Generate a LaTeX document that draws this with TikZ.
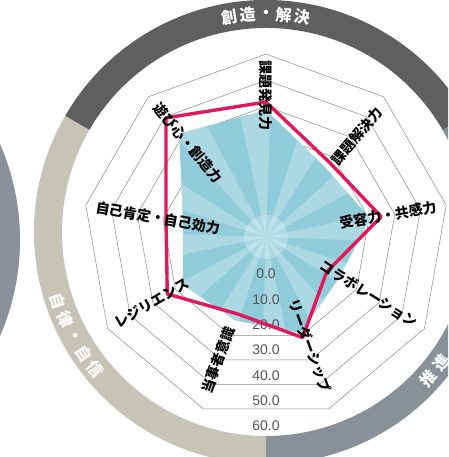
\documentclass[tikz,border=0pt]{standalone}
\usepackage{fontspec}
\newfontfamily\jp{Noto Sans CJK JP}
\newfontfamily\num{Liberation Sans}
\definecolor{darkband}{HTML}{5F5F5F}
\definecolor{khaki}{HTML}{C6C4B7}
\definecolor{grayband}{HTML}{8A9098}
\definecolor{leftgray}{HTML}{8C9199}
\definecolor{bluefill}{HTML}{90CCD9}
\definecolor{redline}{HTML}{E3175B}
\definecolor{gridgray}{HTML}{8A8A8A}
\definecolor{scalegray}{HTML}{555555}
\begin{document}
\begin{tikzpicture}[x=1pt,y=1pt,
  gridline/.style={draw=gridgray, line width=0.5pt},
  axlabel/.style={font=\jp\bfseries\fontsize{14}{14}\selectfont, inner sep=0pt, text=black},
  scalelabel/.style={font=\num\fontsize{14}{14}\selectfont, text=scalegray, inner sep=0pt},
  ringtext/.style={font=\jp\bfseries\fontsize{16}{16}\selectfont, text=white, inner sep=0pt},
  datared/.style={draw=redline, line width=3.4pt, line join=round},
]
\useasboundingbox (-266,-220) rectangle (182,237);
\clip (-266,-220) rectangle (182,237);
\fill[white] (-266,-220) rectangle (182,237);

% neighbouring chart at the far left
\fill[leftgray] (-486,-3) circle (240);

% outer ring
\def\RO{232}\def\RI{204}
\fill[darkband] ([shift={(0,5)}]30:\RO) arc[start angle=30,end angle=150,radius=\RO]
  -- ([shift={(0,5)}]150:\RI) arc[start angle=150,end angle=30,radius=\RI] -- cycle;
\fill[khaki] ([shift={(0,5)}]150:\RO) arc[start angle=150,end angle=270,radius=\RO]
  -- ([shift={(0,5)}]270:\RI) arc[start angle=270,end angle=150,radius=\RI] -- cycle;
\fill[grayband] ([shift={(0,5)}]-90:\RO) arc[start angle=-90,end angle=30,radius=\RO]
  -- ([shift={(0,5)}]30:\RI) arc[start angle=30,end angle=-90,radius=\RI] -- cycle;

% ring texts
\foreach \c [count=\i, evaluate=\i as \ang using 90-(\i-3)*4.8] in {創,造,・,解,決}
  \node[ringtext, rotate=\ang-90] (t\i) at ([shift={(0,5)}]\ang:218) {\c};
\foreach \c [count=\i, evaluate=\i as \ang using 208.6+(\i-3)*5.1] in {自,律,・,自,信}
  \node[ringtext, rotate=\ang+90] (u\i) at ([shift={(0,5)}]\ang:219) {\c};
\foreach \c [count=\i, evaluate=\i as \ang using -42+(\i-1)*5.4] in {推,進}
  \node[ringtext, rotate=\ang+90] (w\i) at ([shift={(0,5)}]\ang:219) {\c};

% grid rings (values 0 ... 60, centre = -10)
\foreach \k in {1,...,7}
  \draw[gridline] (90:{26.14*\k}) \foreach \a in {50,10,...,-230} { -- (\a:{26.14*\k}) } -- cycle;

% blue series with light rays
\begin{scope}
  \clip (90:127) -- (50:91.5) -- (10:106) -- (-30:83.6) -- (-70:102) -- (-110:89)
        -- (-150:96) -- (170:84.3) -- (130:135) -- cycle;
  \fill[bluefill] (-200,-200) rectangle (200,200);
  \foreach \a in {5,35,...,335}
    \fill[white, opacity=0.25] (0,0) -- (\a-7:220) -- (\a+7:220) -- cycle;
  \fill[white, opacity=0.25] (0,0) circle (22);
\end{scope}

% scale labels
\foreach \v [count=\i from 0] in {0.0,10.0,20.0,30.0,40.0,50.0,60.0}
  \node[scalelabel] (s\i) at (0,{-37-25.3*\i}) {\v};

% red series
\draw[datared] (90:135) -- (50:98) -- (10:117) -- (-30:70) -- (-70:107)
  -- (-110:82) -- (-150:114) -- (170:101.5) -- (130:155.5) -- cycle;

% axis labels
\node[axlabel, rotate=-90] (l1) at (0,141) {課題発見力};
\node[axlabel, rotate=50]  (l2) at (91,101) {課題解決力};
\node[axlabel, rotate=10]  (l3) at (122,22) {受容力・共感力};
\node[axlabel, rotate=-32] (l4) at (103,-57) {コラボレーション};
\node[axlabel, rotate=-70] (l5) at (44,-109) {リーダーシップ};
\node[axlabel, rotate=70]  (l6) at (-48,-123) {当事者意識};
\node[axlabel, rotate=30]  (l7) at (-114,-66) {レジリエンス};
\node[axlabel, rotate=-10] (l8) at (-108,19) {自己肯定・自己効力};
\node[axlabel, rotate=-50] (l9) at (-78,94) {遊び心・創造力};
\end{tikzpicture}
\end{document}
